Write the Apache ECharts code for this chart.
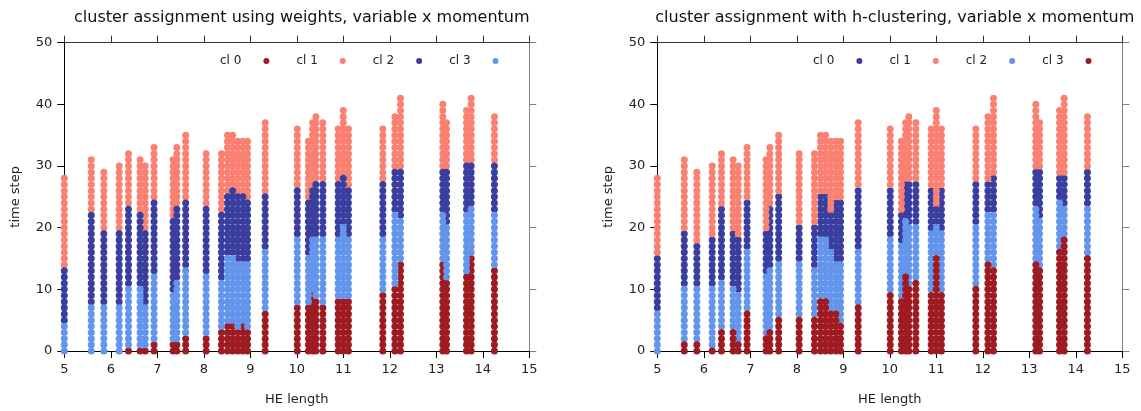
<!DOCTYPE html>
<html>
<head>
<meta charset="utf-8">
<script src="https://cdn.jsdelivr.net/npm/echarts@6/dist/echarts.min.js"></script>
<style>
html,body{margin:0;padding:0;background:#fff;}
#chart{width:1141px;height:411px;}
</style>
</head>
<body>
<div id="chart"></div>
<script>
// HE length of each column of points
var xs = [5.0, 5.58, 5.85, 6.18, 6.38, 6.63, 6.74, 6.93, 7.34, 7.42, 7.61, 8.05, 8.38, 8.51, 8.62, 8.73, 8.84, 8.94, 9.32, 10.01, 10.25, 10.34, 10.41, 10.56, 10.89, 11.0, 11.11, 11.85, 12.11, 12.23, 13.14, 13.22, 13.65, 13.75, 14.25];
// last time step of each column
var tops = [28, 31, 29, 30, 32, 31, 30, 33, 31, 33, 35, 32, 32, 35, 35, 34, 34, 34, 37, 36, 34, 37, 38, 37, 36, 39, 36, 36, 38, 41, 40, 37, 39, 41, 38];

// Left panel (weights): last time step of the bottom, second and third cluster band; the top band runs to tops
var leftBand1 = [-1, -1, -1, -1, 0, 0, 0, 1, 1, 1, 2, 2, 3, 4, 4, 3, 4, 3, 6, 7, 7, 9, 8, 7, 8, 8, 8, 9, 10, 14, 14, 11, 12, 15, 13];
var leftBand2 = [4, 7, 7, 7, 10, 10, 7, 12, 9, 11, 13, 12, 11, 15, 15, 14, 14, 14, 16, 18, 15, 18, 18, 18, 18, 20, 18, 18, 22, 21, 22, 20, 22, 23, 22];
var leftBand3 = [13, 22, 19, 19, 23, 22, 19, 24, 21, 23, 24, 23, 22, 25, 26, 25, 25, 24, 25, 26, 24, 26, 27, 27, 27, 28, 26, 27, 29, 29, 29, 29, 30, 30, 30];
// cluster shown by each band (bottom to top) in left panel
var leftBandCluster = ['cl 0', 'cl 3', 'cl 2', 'cl 1'];

// Right panel (h-clustering)
var rightBand1 = [-1, 1, 1, 0, 3, 3, 1, 6, 2, 3, 5, 5, 5, 8, 8, 6, 6, 4, 7, 9, 8, 12, 10, 11, 9, 15, 9, 10, 14, 13, 14, 13, 16, 18, 15];
var rightBand2 = [6, 10, 10, 10, 11, 10, 9, 16, 12, 13, 14, 14, 13, 18, 18, 16, 14, 14, 16, 18, 17, 21, 20, 20, 19, 20, 19, 20, 22, 22, 23, 21, 24, 23, 23];
var rightBand3 = [15, 19, 17, 18, 23, 19, 18, 24, 19, 23, 25, 20, 20, 25, 25, 22, 24, 24, 26, 26, 22, 27, 27, 27, 26, 23, 26, 27, 27, 28, 29, 29, 28, 28, 29];
var rightBandCluster = ['cl 3', 'cl 2', 'cl 0', 'cl 1'];

var clusterNames = ['cl 0', 'cl 1', 'cl 2', 'cl 3'];
var leftColors = ['#9e1b21', '#fa8072', '#3a3f9f', '#6495ed'];
var rightColors = ['#3a3f9f', '#fa8072', '#6495ed', '#9e1b21'];
var titles = ['cluster assignment using weights, variable x momentum', 'cluster assignment with h-clustering, variable x momentum'];
var xTicks = [5, 6, 7, 8, 9, 10, 11, 12, 13, 14, 15];
var yTicks = [0, 10, 20, 30, 40, 50];

function buildPoints(b1, b2, b3, bandCluster) {
  var out = {};
  clusterNames.forEach(function (n) { out[n] = []; });
  for (var i = 0; i < xs.length; i++) {
    for (var t = 0; t <= tops[i]; t++) {
      var band = t <= b1[i] ? 0 : (t <= b2[i] ? 1 : (t <= b3[i] ? 2 : 3));
      out[bandCluster[band]].push([xs[i], t]);
    }
  }
  return out;
}
var leftPts = buildPoints(leftBand1, leftBand2, leftBand3, leftBandCluster);
var rightPts = buildPoints(rightBand1, rightBand2, rightBand3, rightBandCluster);

var grids = [
  {left: 64.3, width: 465, top: 42.7, height: 308.3},
  {left: 657.3, width: 465, top: 42.7, height: 308.3}
];
var font = 'DejaVu Sans, sans-serif';
var xAxes = [], yAxes = [], series = [], legends = [], titleArr = [];
var legendLeft = [215, 808];
grids.forEach(function (g, gi) {
  var bottomAxis = {
    gridIndex: gi, type: 'value', min: 5, max: 15, interval: 1, position: 'bottom',
    name: 'HE length', nameLocation: 'middle', nameGap: 42,
    nameTextStyle: {fontFamily: font, fontSize: 13, color: '#222'},
    axisLine: {show: true, onZero: false, lineStyle: {color: '#000', width: 1}},
    axisTick: {show: true, inside: false, length: 7, lineStyle: {color: '#000'}},
    axisLabel: {fontFamily: font, fontSize: 13, color: '#222', margin: 12},
    splitLine: {show: false}
  };
  var topAxis = {
    gridIndex: gi, type: 'value', min: 5, max: 15, interval: 1, position: 'top',
    axisLine: {show: true, onZero: false, lineStyle: {color: '#333', width: 1}},
    axisTick: {show: true, inside: false, length: 7, lineStyle: {color: '#333'}},
    axisLabel: {show: false}, splitLine: {show: false}
  };
  var leftAxis = {
    gridIndex: gi, type: 'value', min: 0, max: 50, interval: 10, position: 'left',
    name: 'time step', nameLocation: 'middle', nameGap: 42,
    nameTextStyle: {fontFamily: font, fontSize: 13, color: '#222'},
    axisLine: {show: true, onZero: false, lineStyle: {color: '#000', width: 1}},
    axisTick: {show: true, inside: false, length: 7, lineStyle: {color: '#000'}},
    axisLabel: {fontFamily: font, fontSize: 13, color: '#222', margin: 12},
    splitLine: {show: false}
  };
  var rightAxis = {
    gridIndex: gi, type: 'value', min: 0, max: 50, interval: 10, position: 'right',
    axisLine: {show: true, onZero: false, lineStyle: {color: '#808080', width: 1}},
    axisTick: {show: true, inside: false, length: 7, lineStyle: {color: '#808080'}},
    axisLabel: {show: false}, splitLine: {show: false}
  };
  xAxes.push(bottomAxis, topAxis);
  yAxes.push(leftAxis, rightAxis);
  var pts = gi === 0 ? leftPts : rightPts;
  var cols = gi === 0 ? leftColors : rightColors;
  clusterNames.forEach(function (n, ci) {
    series.push({
      type: 'scatter', name: n, xAxisIndex: gi * 2, yAxisIndex: gi * 2,
      data: pts[n], symbol: 'circle', symbolSize: 7,
      itemStyle: {color: cols[ci], opacity: 1},
      silent: true, animation: false
    });
  });
  legends.push({
    left: legendLeft[gi], top: 50, orient: 'horizontal', align: 'right',
    itemWidth: 40, itemHeight: 6, itemGap: 27, selectedMode: false,
    textStyle: {fontFamily: font, fontSize: 12, color: '#222'},
    data: clusterNames.map(function (n, ci) {
      return {name: n, icon: 'circle', itemStyle: {color: cols[ci]}};
    })
  });
  titleArr.push({
    text: titles[gi], left: g.left + g.width / 2, top: 5, textAlign: 'center',
    textStyle: {fontFamily: font, fontSize: 16, fontWeight: 'normal', color: '#111'}
  });
});

var chart = echarts.init(document.getElementById('chart'), null, {renderer: 'canvas'});
chart.setOption({
  backgroundColor: '#fff',
  animation: false,
  title: titleArr,
  legend: legends,
  grid: grids,
  xAxis: xAxes,
  yAxis: yAxes,
  series: series
});
</script>
</body>
</html>
